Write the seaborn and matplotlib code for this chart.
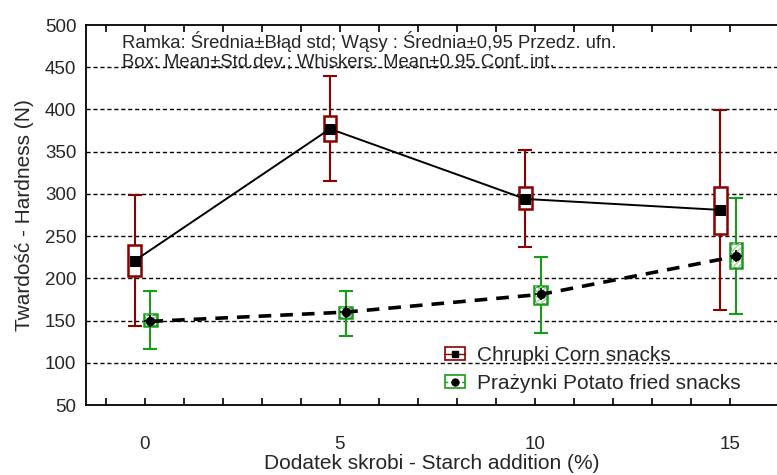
import matplotlib
matplotlib.use("Agg")
import matplotlib.pyplot as plt
import seaborn as sns
import numpy as np
import pandas as pd
from matplotlib.lines import Line2D
from matplotlib.patches import Patch
from matplotlib.legend_handler import HandlerTuple

# ---- data ----
starch = [0, 5, 10, 15]
corn_mean = [221, 377, 294, 281]
corn_box_low = [203, 363, 282, 253]
corn_box_high = [239, 392, 308, 308]
corn_ci_low = [143, 315, 237, 162]
corn_ci_high = [299, 440, 352, 399]

potato_mean = [149, 160, 181, 226]
potato_box_low = [143, 153, 170, 212]
potato_box_high = [158, 166, 191, 242]
potato_ci_low = [116, 132, 135, 158]
potato_ci_high = [185, 185, 225, 295]

series_names = ["Chrupki Corn snacks", "Prażynki Potato fried snacks"]
note1 = "Ramka: Średnia±Błąd std; Wąsy : Średnia±0,95 Przedz. ufn."
note2 = "Box: Mean±Std.dev.; Whiskers: Mean±0.95 Conf. int."

sns.set_style("white")
plt.rcParams['font.family'] = ['Liberation Sans', 'DejaVu Sans']

fig = plt.figure(figsize=(7.77, 4.75), dpi=100)
ax = fig.add_axes([86/777, 1-405/475, 1-86/777, 380/475])

red = "#8b0000"
green = "#1a9a1a"
off_c, off_p = -0.25, 0.15
bw = 0.33

xc = np.array(starch) + off_c
xp = np.array(starch) + off_p

df = pd.DataFrame({
    "x": np.concatenate([xc, xp]),
    "mean": corn_mean + potato_mean,
    "series": [series_names[0]] * 4 + [series_names[1]] * 4,
})

# gridlines
for yv in range(100, 500, 50):
    ax.axhline(yv, color="black", lw=1.0, ls=(0, (3, 2)), zorder=0)

# whiskers
cm = np.array(corn_mean); pm = np.array(potato_mean)
ax.errorbar(xc, cm, yerr=[cm - np.array(corn_ci_low), np.array(corn_ci_high) - cm],
            fmt="none", ecolor=red, elinewidth=1.5, capsize=5, capthick=1.5, zorder=2)
ax.errorbar(xp, pm, yerr=[pm - np.array(potato_ci_low), np.array(potato_ci_high) - pm],
            fmt="none", ecolor=green, elinewidth=1.5, capsize=5, capthick=1.5, zorder=2)

# boxes
ax.bar(xc, np.array(corn_box_high) - np.array(corn_box_low), bottom=corn_box_low,
       width=bw, facecolor="white", edgecolor=red, linewidth=1.8, zorder=3)
ax.bar(xp, np.array(potato_box_high) - np.array(potato_box_low), bottom=potato_box_low,
       width=bw, facecolor="white", edgecolor=green, linewidth=1.8, zorder=3)
plt.rcParams['hatch.color'] = "#9fd49f"
ax.bar(xp, np.array(potato_box_high) - np.array(potato_box_low), bottom=potato_box_low,
       width=bw * 0.85, facecolor="none", edgecolor="#9fd49f", hatch="//////", linewidth=0, zorder=3.1)

# mean lines
dc = df[df.series == series_names[0]]
dp = df[df.series == series_names[1]]
sns.lineplot(data=dc, x="x", y="mean", ax=ax, color="black", lw=1.4, marker="s",
             markersize=7, markeredgecolor="black", zorder=4, legend=False)
sns.lineplot(data=dp, x="x", y="mean", ax=ax, color="black", lw=2.6, marker="o",
             markersize=6, markeredgecolor="black", zorder=4, legend=False,
             dashes=False, linestyle=(0, (3.5, 2.5)))
ax.plot(xp, pm, ls="none", marker="+", color="black", ms=9, mew=1.2, zorder=5)

ax.set_xlim(-1.5, 16.2)
ax.set_ylim(50, 500)
ax.set_yticks(range(50, 501, 50))
ax.set_xticks([0, 5, 10, 15])
ax.set_xticks(range(-1, 16), minor=True)
ax.tick_params(axis="x", which="both", direction="in", top=True, bottom=True,
               length=5, width=1.2, color="black", pad=22, labelsize=13.5)
ax.tick_params(axis="y", length=0, pad=7, labelsize=13.5)
for s in ["left", "bottom", "top"]:
    ax.spines[s].set_visible(True)
    ax.spines[s].set_color("black")
    ax.spines[s].set_linewidth(1.3)
ax.spines["right"].set_visible(False)

ax.set_xlabel("Dodatek skrobi - Starch addition (%)", fontsize=15)
ax.set_ylabel("Twardość - Hardness (N)", fontsize=15)
ax.xaxis.set_label_coords(0.5, -0.128)
ax.yaxis.set_label_coords(-0.075, 0.5)

ax.text((122 - 86) / 691, (405 - 41) / 380, note1, transform=ax.transAxes,
        fontsize=13.3, va="center", ha="left")
ax.text((122 - 86) / 691, (405 - 62) / 380, note2, transform=ax.transAxes,
        fontsize=13.3, va="center", ha="left")

# legend
h1 = (Patch(facecolor="white", edgecolor=red, linewidth=1.2),
      Line2D([], [], color=red, lw=1.0),
      Line2D([], [], ls="none", marker="s", color="black", ms=5))
h2 = (Patch(facecolor="white", edgecolor=green, linewidth=1.2),
      Line2D([], [], color=green, lw=1.0, ls=(0, (2, 2))),
      Line2D([], [], ls="none", marker="o", color="black", ms=5))
ax.legend([h1, h2], series_names, handler_map={tuple: HandlerTuple(ndivide=1)},
          loc="upper left", bbox_to_anchor=((445 - 86) / 691, (405 - 346) / 380),
          frameon=False, fontsize=15, handlelength=0.96, handleheight=0.62,
          handletextpad=0.58, labelspacing=0.42, borderpad=0, borderaxespad=0)

fig.savefig("out.png", dpi=100)
